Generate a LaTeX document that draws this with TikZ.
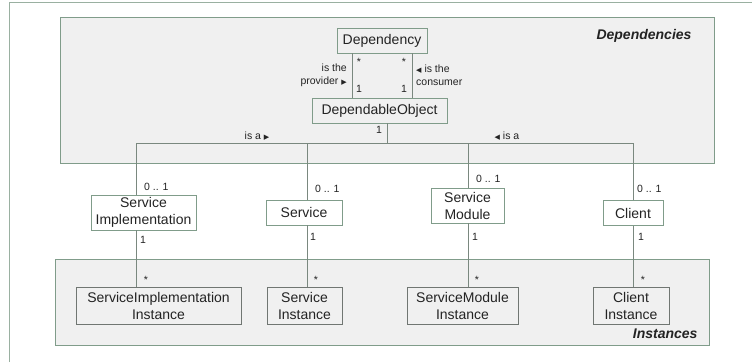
\documentclass[tikz,border=0pt]{standalone}
\usepackage{fontspec}
\setmainfont{Liberation Sans}
\newfontfamily\symfont{DejaVu Sans}
\usepackage{tikz}
\usetikzlibrary{positioning}
\definecolor{frame}{RGB}{128,156,138}
\definecolor{boxline}{RGB}{112,118,114}
\definecolor{wire}{RGB}{122,136,127}
\definecolor{pane}{RGB}{240,240,240}
\definecolor{ink}{RGB}{35,35,35}
\newcommand{\rtri}{{\symfont\scriptsize ▶}}
\newcommand{\ltri}{{\symfont\scriptsize ◀}}
\tikzset{classbox/.style = {draw=frame,line width=0.7pt,text=ink,align=center,inner sep=1pt,font=\fontsize{14}{17}\selectfont}}
\tikzset{instbox/.style = {classbox,draw=boxline}}
\tikzset{mult/.style = {text=ink,inner sep=0pt,font=\fontsize{10.5}{13}\selectfont}}
\tikzset{link/.style = {draw=wire,line width=0.6pt}}

\begin{document}
\begin{tikzpicture}[x=1pt,y=-1pt]
			\useasboundingbox (0,0) rectangle (752,362);
			\draw[frame!80,line width=0.8pt] (9,362) -- (9,2) -- (752,2);
			\filldraw[fill=pane,draw=frame,line width=0.7pt] (60,17) rectangle (714,163);
			\filldraw[fill=pane,draw=frame,line width=0.7pt] (55,259) rectangle (709,345);
			\node[anchor=east,text=ink,font=\fontsize{14}{17}\selectfont\bfseries\itshape] (deptitle) at (695,36) {Dependencies};
			\node[anchor=east,text=ink,font=\fontsize{14}{17}\selectfont\bfseries\itshape] (insttitle) at (701,334) {Instances};
			\begin{scope}[every node/.style={classbox}]
			    \node[minimum width=90,minimum height=25] (dep) at (382,40.5) {Dependency};
			    \node[minimum width=135,minimum height=25] (dob) at (379.5,110.5) {DependableObject};
			    \node[minimum width=105,minimum height=35] (simpl) at (143.5,212.5) {Service\\Implementation};
			    \node[minimum width=76,minimum height=25] (svc) at (304,212.5) {Service};
			    \node[minimum width=73,minimum height=35] (smod) at (467.5,205.5) {Service\\Module};
			    \node[minimum width=60,minimum height=25] (cli) at (633,213) {Client};
			\end{scope}
			\begin{scope}[every node/.style={instbox,minimum height=37}]
			    \node[minimum width=165] (simplinst) at (158.5,305.5) {ServiceImplementation\\Instance};
			    \node[minimum width=75] (svcinst) at (304.5,305.5) {Service\\Instance};
			    \node[minimum width=111] (smodinst) at (462.5,305.5) {ServiceModule\\Instance};
			    \node[minimum width=76] (cliinst) at (631,305.5) {Client\\Instance};
			\end{scope}
			\coordinate (prov) at (352,0);
			\coordinate (cons) at (412,0);
			\coordinate (hub) at (387,143);
			\coordinate (xa) at (136,0);
			\coordinate (xb) at (307,0);
			\coordinate (xc) at (468,0);
			\coordinate (xd) at (633,0);
			\begin{scope}[every path/.style={link}]
			    \path (dep.south -| prov) edge (dob.north -| prov);
			    \path (dep.south -| cons) edge (dob.north -| cons);
			    \path (dob.south -| hub) edge (hub);
			    \draw (simpl.north -| xa) |- (hub);
			    \draw (svc.north -| xb) |- (hub);
			    \draw (smod.north -| xc) |- (hub);
			    \draw (cli.north -| xd) |- (hub);
			    \path (simpl.south -| xa) edge (simplinst.north -| xa);
			    \path (svc.south -| xb) edge (svcinst.north -| xb);
			    \path (smod.south -| xc) edge (smodinst.north -| xc);
			    \path (cli.south -| xd) edge (cliinst.north -| xd);
			\end{scope}
			\begin{scope}[every node/.style={mult}]
			    \node (provmany) at (359,62) {*};
			    \node (consmany) at (404,62) {*};
			    \node (provone) at (359,89) {1};
			    \node (consone) at (404,89) {1};
			    \node[anchor=east,align=right] (provlbl) at (347,75.5) {is the\\provider \rtri};
			    \node[anchor=west,align=left] (conslbl) at (416,75.5) {\ltri\ is the\\consumer};
			    \node (dobone) at (379,130) {1};
			    \node (isaleft) at (257,136) {is a \rtri};
			    \node (isaright) at (507,136) {\ltri\ is a};
			    \node[anchor=west] (simplopt) at (144,187) {0 .. 1};
			    \node[anchor=west] (svcopt) at (315,189) {0 .. 1};
			    \node[anchor=west] (smodopt) at (476,179) {0 .. 1};
			    \node[anchor=west] (cliopt) at (637,189) {0 .. 1};
			    \node (simplone) at (143,240) {1};
			    \node (svcone) at (313,237) {1};
			    \node (smodone) at (475,237) {1};
			    \node (clione) at (641,237) {1};
			    \node (simplmany) at (146,280) {*};
			    \node (svcmany) at (316,280) {*};
			    \node (smodmany) at (477,280) {*};
			    \node (climany) at (643,280) {*};
			\end{scope}
		\end{tikzpicture}
\end{document}
